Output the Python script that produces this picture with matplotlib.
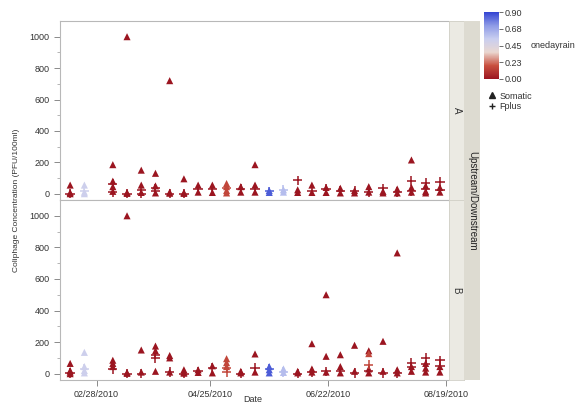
import numpy as np
import pandas as pd
import matplotlib
matplotlib.use("Agg")
import matplotlib.pyplot as plt
import matplotlib.dates as mdates
from matplotlib.colors import LinearSegmentedColormap, Normalize
from matplotlib.lines import Line2D

plt.rcParams['font.family'] = ['Liberation Sans', 'DejaVu Sans']

# weekly sampling dates
dates = ["2010-02-15", "2010-02-22", "2010-03-08", "2010-03-15", "2010-03-22",
         "2010-03-29", "2010-04-05", "2010-04-12", "2010-04-19", "2010-04-26",
         "2010-05-03", "2010-05-10", "2010-05-17", "2010-05-24", "2010-05-31",
         "2010-06-07", "2010-06-14", "2010-06-21", "2010-06-28", "2010-07-05",
         "2010-07-12", "2010-07-19", "2010-07-26", "2010-08-02", "2010-08-09",
         "2010-08-16"]

# one-day rain per sampling date
onedayrain = [0.0, 0.52, 0.0, 0.0, 0.0, 0.0, 0.0, 0.0, 0.0, 0.0,
              0.15, 0.0, 0.0, 0.85, 0.60, 0.0, 0.0, 0.0, 0.0, 0.0,
              0.0, 0.0, 0.0, 0.0, 0.0, 0.0]

# site A (upstream)
somatic_A = [[55, 8, 0], [55, 10, 0], [185, 80, 45, 15], [1000, 8, 2], [150, 55, 8],
             [130, 50, 5], [720, 10, 3], [95, 8, 2], [55, 10], [55, 8],
             [65, 45, 20, 5], [45, 10], [185, 55, 10], [20, 8], [25, 10],
             [25, 8], [55, 8], [40, 8], [35, 5], [20, 5],
             [45, 10], [15, 5], [30, 5], [215, 40, 10], [50, 15, 5], [40, 10]]
fplus_A = [[0], [20], [65, 10], [0], [25, 0], [35, 15], [0], [0], [30], [30],
           [35], [30], [30], [15], [25], [85], [20], [30], [20], [20],
           [10], [35], [10], [80, 15], [70, 30], [75, 25]]

# site B (downstream)
somatic_B = [[65, 20, 10, 0], [135, 45, 20, 5], [85, 65, 45], [1000, 8, 2], [150, 10],
             [175, 145, 15], [115, 100, 10], [25, 10, 3], [25, 8], [50, 5],
             [95, 70, 45], [15, 5], [125, 10], [45, 25, 5], [30, 8],
             [15, 5], [190, 30, 10], [500, 110, 10], [120, 45, 5], [180, 15],
             [145, 30, 5], [205, 15], [765, 25, 5], [45, 15], [65, 35, 10], [45, 10]]
fplus_B = [[5], [30], [30], [0], [0], [120, 100], [10], [0], [15], [35],
           [35, 10], [0], [35], [30], [10], [0], [10], [15], [20], [5],
           [20], [5], [5], [70, 40], [100, 60], [85, 50]]

# a couple of B samples on 07/12 with a different rain reading
extra_B_date = "2010-07-12"
extra_B_somatic = [127]
extra_B_fplus = [57]
extra_B_rain = 0.15

xtick_dates = ["2010-02-28", "2010-04-25", "2010-06-22", "2010-08-19"]

cmap = LinearSegmentedColormap.from_list(
    'rain', ['#9b1520', '#c9503f', '#ead7d0', '#c9cef0', '#8d9ae6', '#3344d2'], N=256)
norm = Normalize(0, 0.9)


def flatten(values, rain):
    xs, ys, cs = [], [], []
    for d, vals, r in zip(dates, values, rain):
        for v in vals:
            xs.append(pd.Timestamp(d))
            ys.append(v)
            cs.append(r)
    return xs, ys, cs


W, H = 582, 407
fig = plt.figure(figsize=(W / 100, H / 100), dpi=100)

left, right = 60 / W, 448 / W
panels = [("A", somatic_A, fplus_A, 21, 200), ("B", somatic_B, fplus_B, 200, 380)]
grey = '#b8b8b8'
txt = '#333333'
axes = []
for name, som, fp, ytop, ybot in panels:
    ax = fig.add_axes([left, 1 - ybot / H, right - left, (ybot - ytop) / H])
    axes.append(ax)
    xs, ys, cs = flatten(som, onedayrain)
    if name == "B":
        for v in extra_B_somatic:
            xs.append(pd.Timestamp(extra_B_date)); ys.append(v); cs.append(extra_B_rain)
    ax.scatter(xs, ys, c=cs, cmap=cmap, norm=norm, marker='^', s=26, linewidths=0, zorder=3)
    xs, ys, cs = flatten(fp, onedayrain)
    if name == "B":
        for v in extra_B_fplus:
            xs.append(pd.Timestamp(extra_B_date)); ys.append(v); cs.append(extra_B_rain)
    ax.scatter(xs, ys, c=cs, cmap=cmap, norm=norm, marker='+', s=45, linewidths=1.1, zorder=3)

    ax.set_ylim(-40, 1100)
    ax.set_xlim(pd.Timestamp("2010-02-10"), pd.Timestamp("2010-08-20"))
    ax.set_yticks([0, 200, 400, 600, 800, 1000])
    ax.set_yticks(np.arange(100, 1100, 200), minor=True)
    ax.tick_params(axis='y', labelsize=6.5, colors=txt, length=4, width=0.6, color='#777777')
    ax.tick_params(axis='y', which='minor', length=2.5, width=0.5, color='#999999')
    ax.set_xticks([pd.Timestamp(d) for d in xtick_dates])
    ax.xaxis.set_major_formatter(mdates.DateFormatter('%m/%d/%Y'))
    ax.tick_params(axis='x', labelsize=6.5, colors=txt, length=4, width=0.6, color='#777777')
    for s in ax.spines.values():
        s.set_color(grey)
        s.set_linewidth(0.8)
    ax.spines['right'].set_visible(False)

    # facet strip
    sax = fig.add_axes([449 / W, 1 - ybot / H, 15 / W, (ybot - ytop) / H])
    sax.set_facecolor('#ebeae3')
    sax.set_xticks([]); sax.set_yticks([])
    for s in sax.spines.values():
        s.set_color('#d0cfc6')
        s.set_linewidth(0.6)
    sax.text(0.5, 0.5, name, rotation=-90, ha='center', va='center', fontsize=7, color=txt,
             transform=sax.transAxes)

axes[0].tick_params(axis='x', bottom=False, labelbottom=False)
axes[0].spines['bottom'].set_color('#d0d0d0')

# outer strip
oax = fig.add_axes([464 / W, 1 - 380 / H, 16 / W, 359 / H])
oax.set_facecolor('#dddbd1')
oax.set_xticks([]); oax.set_yticks([])
for s in oax.spines.values():
    s.set_visible(False)
oax.text(0.5, 0.5, "Upstream/Downstream", rotation=-90, ha='center', va='center',
         fontsize=7, color='#222222', transform=oax.transAxes)

fig.text(17 / W, 1 - 200 / H, "Coliphage Concentration (PFU/100ml)", rotation=90,
         ha='center', va='center', fontsize=6, color=txt)
fig.text(253 / W, 1 - 400 / H, "Date", ha='center', va='center', fontsize=6.5, color=txt)

# colour bar
cax = fig.add_axes([484 / W, 1 - 79 / H, 15 / W, 67 / H])
cb = fig.colorbar(plt.cm.ScalarMappable(norm=norm, cmap=cmap), cax=cax)
cb.set_ticks([0, 0.225, 0.45, 0.675, 0.9])
cb.set_ticklabels(["0.00", "0.23", "0.45", "0.68", "0.90"])
cb.outline.set_visible(False)
cax.tick_params(labelsize=6.5, colors=txt, length=3, width=0.5, pad=1)
fig.text(531 / W, 1 - 46 / H, "onedayrain", ha='left', va='center', fontsize=6.5, color=txt)

handles = [Line2D([], [], marker='^', color='#222222', linestyle='none', markersize=4),
           Line2D([], [], marker='+', color='#222222', linestyle='none', markersize=5)]
fig.legend(handles, ["Somatic", "Fplus"], loc='upper left',
           bbox_to_anchor=(482 / W, 1 - 87 / H), frameon=False, fontsize=6.5,
           handletextpad=0.2, labelspacing=0.15, borderpad=0, handlelength=1.2,
           labelcolor=txt)

fig.savefig("out.png", dpi=100)
